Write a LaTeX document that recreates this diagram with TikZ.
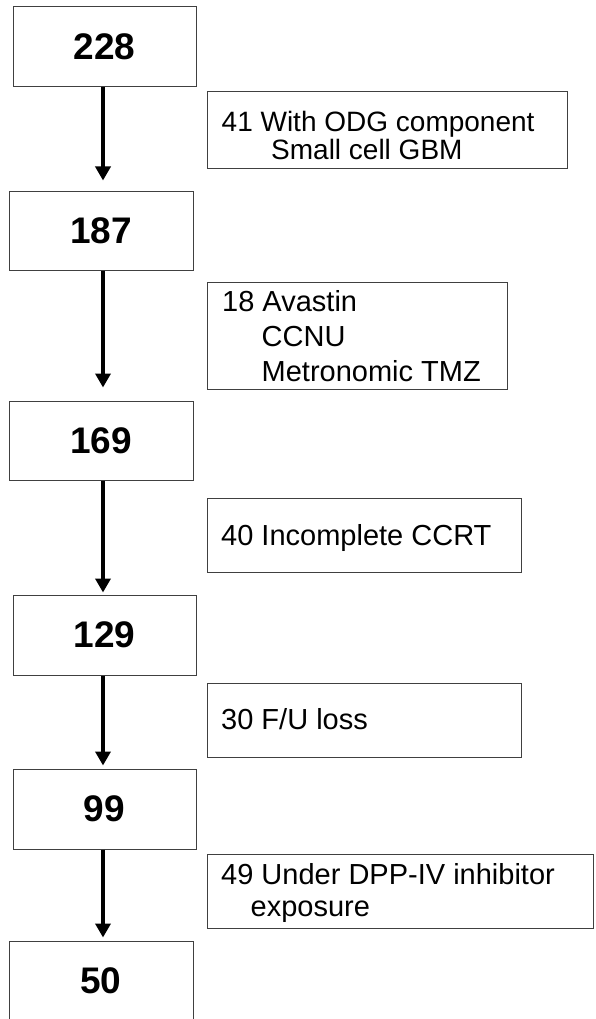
\documentclass[tikz,border=0pt]{standalone}
\usepackage{fontspec}
\setmainfont{Liberation Sans}
\usetikzlibrary{arrows.meta}
\tikzset{
  numbox/.style={draw=black!75, line width=1pt, inner sep=0pt,
    font=\fontsize{37}{40}\selectfont\bfseries},
  sidebox/.style={draw=black!75, line width=1pt, inner sep=0pt},
  sidetext/.style={anchor=base west, inner sep=0pt,
    font=\fontsize{29}{34}\selectfont},
  sidetextsmall/.style={sidetext, font=\fontsize{28}{32}\selectfont},
  flowarrow/.style={line width=4pt, -{Triangle[length=14pt,width=15pt]}},
}
\begin{document}
\begin{tikzpicture}[x=1pt,y=-1pt]
\useasboundingbox (0,0) rectangle (595,1019);
\clip (0,0) rectangle (595,1019);
\coordinate (ax) at (103,0);
% main boxes
\node[numbox, minimum width=183pt, minimum height=80pt] (b228) at (104.5,47) {228};
\node[numbox, minimum width=184pt, minimum height=79pt] (b187) at (101,230.5) {187};
\node[numbox, minimum width=184pt, minimum height=79pt] (b169) at (101,440.5) {169};
\node[numbox, minimum width=183pt, minimum height=80pt] (b129) at (104.5,635) {129};
\node[numbox, minimum width=183pt, minimum height=80pt] (b99) at (104.5,809) {99};
\node[numbox, minimum width=184pt, minimum height=80pt] (b50) at (101,981) {50};
% side boxes
\node[sidebox, minimum width=360pt, minimum height=77pt] (s1) at (387,130.5) {};
\node[sidebox, minimum width=300pt, minimum height=107pt] (s2) at (357,335.5) {};
\node[sidebox, minimum width=314pt, minimum height=74pt] (s3) at (364,535) {};
\node[sidebox, minimum width=314pt, minimum height=74pt] (s4) at (364,720) {};
\node[sidebox, minimum width=386pt, minimum height=74pt] (s5) at (400,891) {};
% side texts
\node[sidetextsmall] (t1a) at (221.5,131.5) {41 With ODG component};
\node[sidetextsmall] (t1b) at (271,159.5) {Small cell GBM};
\node[sidetext] (t2a) at (222,311.5) {18 Avastin};
\node[sidetext] (t2b) at (261.5,346) {CCNU};
\node[sidetext] (t2c) at (261.5,381) {Metronomic TMZ};
\node[sidetext] (t3a) at (221,545) {40 Incomplete CCRT};
\node[sidetext] (t4a) at (221,729) {30 F/U loss};
\node[sidetext] (t5a) at (221,884.5) {49 Under DPP-IV inhibitor};
\node[sidetext] (t5b) at (250.5,916.5) {exposure};
% arrows
\draw[flowarrow, shorten >=10pt] (b228.south -| ax) -- (b187.north -| ax);
\draw[flowarrow, shorten >=13pt] (b187.south -| ax) -- (b169.north -| ax);
\draw[flowarrow, shorten >=2pt] (b169.south -| ax) -- (b129.north -| ax);
\draw[flowarrow, shorten >=3pt] (b129.south -| ax) -- (b99.north -| ax);
\draw[flowarrow, shorten >=3pt] (b99.south -| ax) -- (b50.north -| ax);
\end{tikzpicture}
\end{document}
